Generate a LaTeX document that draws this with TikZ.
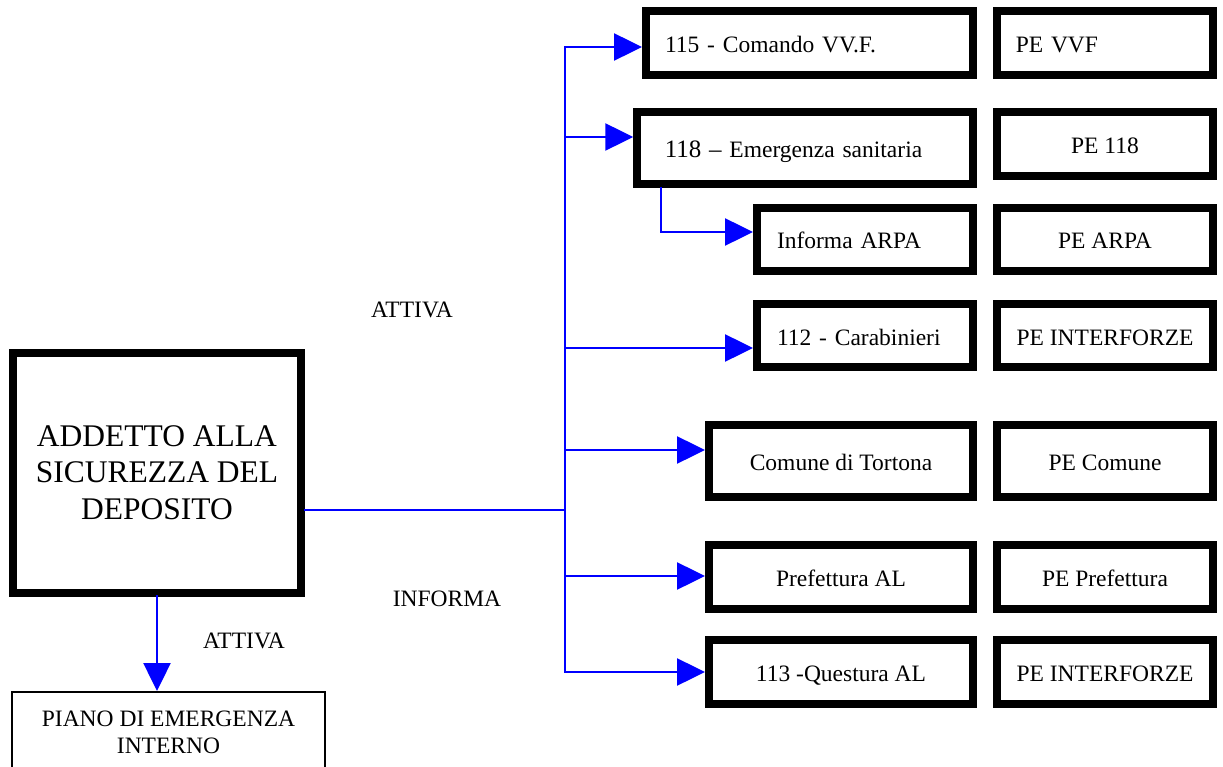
\documentclass[tikz,border=0pt]{standalone}
\usepackage{fontspec}
\setmainfont{Liberation Serif}
\usetikzlibrary{arrows.meta}
\definecolor{wireblue}{RGB}{0,0,255}
\newcommand{\boxfont}{\fontsize{23.5}{27}\selectfont}
\newcommand{\bigfont}{\fontsize{31.5}{36.5}\selectfont}

\begin{document}
\begin{tikzpicture}[x=1pt,y=-1pt,
	ente/.style={draw, line width=8pt, font=\boxfont, inner ysep=0pt},
	riga/.style={ente, text height=22pt, text depth=3pt},
	sinistra/.style={riga, align=left},
	pe/.style={riga, minimum width=215.5pt},
	lbl/.style={font=\boxfont},
	wire/.style={draw=wireblue, line width=2.5pt, line cap=rect},
	conn/.style={wire, -{Triangle[length=28pt,width=27pt]}}]
	\useasboundingbox[fill=white] (0,0) rectangle (1223,767);

	% chi attiva
	\node[ente, font=\bigfont, align=center, minimum width=288pt, minimum height=240pt] (addetto) at (157,472.5) {ADDETTO ALLA\\SICUREZZA DEL\\DEPOSITO};
	\node[draw, line width=2pt, font=\boxfont, align=center, minimum width=313pt, minimum height=80pt] (piano) at (168.5,732) {PIANO DI EMERGENZA\\INTERNO};

	% enti
	\node[sinistra, minimum height=64pt, inner xsep=19pt, text width=289pt] (vvf) at (809.5,43) {115 - Comando VV.F.};
	\node[sinistra, minimum height=72pt, inner xsep=27.5pt, text width=280.5pt] (sani) at (805,148) {{\fontsize{25}{27}\selectfont 118 --} Emergenza sanitaria};
	\node[sinistra, minimum height=63pt, inner xsep=20pt, text width=176pt] (arpa) at (865,239.5) {Informa ARPA};
	\node[sinistra, minimum height=63pt, inner xsep=20pt, text width=176pt] (cara) at (865,335.5) {112 - Carabinieri};
	\node[riga, minimum width=264pt, minimum height=71.5pt] (comune) at (841,461) {Comune di Tortona};
	\node[riga, minimum width=264pt, minimum height=64pt] (pref) at (841,577) {Prefettura AL};
	\node[riga, minimum width=264pt, minimum height=64pt] (quest) at (841,672) {113 -Questura AL};

	% piani di emergenza
	\node[pe, sinistra, minimum height=64pt, inner xsep=18.5pt, text width=178.5pt] (pevvf) at (1105,43) {PE VVF};
	\node[pe, minimum height=64pt] (pesani) at (1105,144) {PE 118};
	\node[pe, minimum height=63pt] (pearpa) at (1105,239.5) {PE ARPA};
	\node[pe, minimum height=63pt] (peint) at (1105,335.5) {PE INTERFORZE};
	\node[pe, minimum height=71.5pt] (pecom) at (1105,461) {PE Comune};
	\node[pe, minimum height=64pt] (pepref) at (1105,577) {PE Prefettura};
	\node[pe, minimum height=64pt] (peint2) at (1105,672) {PE INTERFORZE};

	\node[lbl] (attiva) at (412,310) {ATTIVA};
	\node[lbl] (informa) at (447,599) {INFORMA};
	\node[lbl] (attivapiano) at (244,641) {ATTIVA};

	\coordinate (t1) at (565,47);
	\coordinate (t2) at (565,137);
	\coordinate (t3) at (565,348);
	\coordinate (t4) at (565,450);
	\coordinate (t5) at (565,576);
	\coordinate (t6) at (565,672);
	\coordinate (join) at (565,510);
	\coordinate (s1) at (661,232);

	\draw[wire] (join -| addetto.east) -- (join);
	\draw[wire] (t6) -- (t1);
	\draw[conn] (t1) -- (t1 -| vvf.west);
	\draw[conn] (t2) -- (t2 -| sani.west);
	\draw[conn] (s1 |- sani.south) -- (s1) -- (s1 -| arpa.west);
	\draw[conn] (t3) -- (t3 -| cara.west);
	\draw[conn] (t4) -- (t4 -| comune.west);
	\draw[conn] (t5) -- (t5 -| pref.west);
	\draw[conn] (t6) -- (t6 -| quest.west);
	\draw[conn] (addetto.south) -- (addetto.south |- piano.north);
\end{tikzpicture}
\end{document}
